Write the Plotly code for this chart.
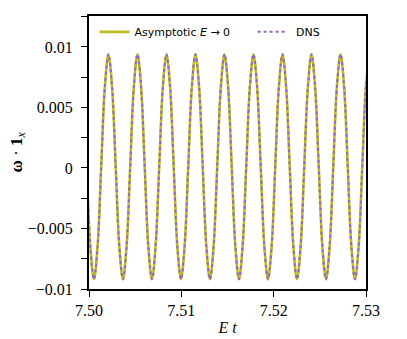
import plotly.graph_objects as go

# time samples (E t) at ~1/8-period spacing
t = [7.499750, 7.500143, 7.500535, 7.500928, 7.501321, 7.501714, 7.502106, 7.502499,
     7.502892, 7.503284, 7.503677, 7.504070, 7.504462, 7.504855, 7.505248, 7.505641,
     7.506033, 7.506426, 7.506819, 7.507211, 7.507604, 7.507997, 7.508389, 7.508782,
     7.509175, 7.509568, 7.509960, 7.510353, 7.510746, 7.511138, 7.511531, 7.511924,
     7.512316, 7.512709, 7.513102, 7.513495, 7.513887, 7.514280, 7.514673, 7.515065,
     7.515458, 7.515851, 7.516243, 7.516636, 7.517029, 7.517422, 7.517814, 7.518207,
     7.518600, 7.518992, 7.519385, 7.519778, 7.520170, 7.520563, 7.520956, 7.521349,
     7.521741, 7.522134, 7.522527, 7.522919, 7.523312, 7.523705, 7.524097, 7.524490,
     7.524883, 7.525276, 7.525668, 7.526061, 7.526454, 7.526846, 7.527239, 7.527632,
     7.528024, 7.528417, 7.528810, 7.529203, 7.529595, 7.529988, 7.530381]

omega_asym = [0.0001, -0.00648, -0.0092, -0.00648, 0.0001, 0.00668, 0.0094, 0.00668,
              0.0001, -0.00648, -0.0092, -0.00648, 0.0001, 0.00668, 0.0094, 0.00668,
              0.0001, -0.00648, -0.0092, -0.00648, 0.0001, 0.00668, 0.0094, 0.00668,
              0.0001, -0.00648, -0.0092, -0.00648, 0.0001, 0.00668, 0.0094, 0.00668,
              0.0001, -0.00648, -0.0092, -0.00648, 0.0001, 0.00668, 0.0094, 0.00668,
              0.0001, -0.00648, -0.0092, -0.00648, 0.0001, 0.00668, 0.0094, 0.00668,
              0.0001, -0.00648, -0.0092, -0.00648, 0.0001, 0.00668, 0.0094, 0.00668,
              0.0001, -0.00648, -0.0092, -0.00648, 0.0001, 0.00668, 0.0094, 0.00668,
              0.0001, -0.00648, -0.0092, -0.00648, 0.0001, 0.00668, 0.0094, 0.00668,
              0.0001, -0.00648, -0.0092, -0.00648, 0.0001, 0.00668, 0.0094]

omega_dns = [0.0001, -0.00648, -0.0092, -0.00648, 0.0001, 0.00668, 0.0094, 0.00668,
             0.0001, -0.00648, -0.0092, -0.00648, 0.0001, 0.00668, 0.0094, 0.00668,
             0.0001, -0.00648, -0.0092, -0.00648, 0.0001, 0.00668, 0.0094, 0.00668,
             0.0001, -0.00648, -0.0092, -0.00648, 0.0001, 0.00668, 0.0094, 0.00668,
             0.0001, -0.00648, -0.0092, -0.00648, 0.0001, 0.00668, 0.0094, 0.00668,
             0.0001, -0.00648, -0.0092, -0.00648, 0.0001, 0.00668, 0.0094, 0.00668,
             0.0001, -0.00648, -0.0092, -0.00648, 0.0001, 0.00668, 0.0094, 0.00668,
             0.0001, -0.00648, -0.0092, -0.00648, 0.0001, 0.00668, 0.0094, 0.00668,
             0.0001, -0.00648, -0.0092, -0.00648, 0.0001, 0.00668, 0.0094, 0.00668,
             0.0001, -0.00648, -0.0092, -0.00648, 0.0001, 0.00668, 0.0094]

x_ticks = [7.50, 7.51, 7.52, 7.53]
x_tick_labels = ["7.50", "7.51", "7.52", "7.53"]
y_ticks = [-0.01, -0.005, 0, 0.005, 0.01]
y_tick_labels = ["\u22120.01", "\u22120.005", "0", "0.005", "0.01"]

fig = go.Figure()
fig.add_trace(go.Scatter(
    x=t, y=omega_asym, mode="lines",
    name="Asymptotic <i>E</i> \u2192 0\u00a0\u00a0\u00a0\u00a0\u00a0",
    line=dict(color="#bcbd22", width=2.6, shape="spline", smoothing=1.0)))
fig.add_trace(go.Scatter(
    x=t, y=omega_dns, mode="lines", name="\u00a0DNS",
    line=dict(color="#9467bd", width=2.0, dash="dot", shape="spline", smoothing=1.0)))

serif = "Liberation Serif, DejaVu Serif, serif"
# the page body adds an 8px offset; the figure is sized to fill the window exactly
fig.update_layout(
    width=399, height=331,
    margin=dict(l=81, r=41, t=8, b=50, pad=0),
    paper_bgcolor="white", plot_bgcolor="white",
    showlegend=True,
    legend=dict(orientation="h", x=0.02, y=0.995, xanchor="left", yanchor="top",
                font=dict(family="DejaVu Sans, sans-serif", size=11, color="black"),
                bgcolor="rgba(255,255,255,0)", itemwidth=30, tracegroupgap=0),
    xaxis=dict(range=[7.50, 7.53], tickmode="array", tickvals=x_ticks, ticktext=x_tick_labels,
               automargin=False,
               ticks="outside", ticklen=6, tickwidth=1, tickcolor="black",
               showline=True, linecolor="black", linewidth=2, mirror=True,
               showgrid=False, zeroline=False,
               tickfont=dict(family=serif, size=16, color="black"),
               title=dict(text="<i>E t</i>", font=dict(family=serif, size=16, color="black"), standoff=4)),
    yaxis=dict(range=[-0.01, 0.01256], tickmode="array", tickvals=y_ticks, ticktext=y_tick_labels,
               automargin=False, ticklabelstandoff=5,
               ticks="outside", ticklen=6, tickwidth=1, tickcolor="black",
               minor=dict(dtick=0.0025, tick0=0, ticks="outside", ticklen=6, tickwidth=1, tickcolor="black", showgrid=False),
               showline=True, linecolor="black", linewidth=2, mirror=True,
               showgrid=False, zeroline=False,
               tickfont=dict(family=serif, size=16, color="black")),
    annotations=[dict(text="<b>\u03c9</b> \u00b7 <b>1</b><sub><i>x</i></sub>",
                      xref="paper", yref="paper", x=0, y=0.5, xanchor="center", yanchor="middle",
                      xshift=-72, textangle=-90, showarrow=False,
                      font=dict(family=serif, size=17, color="black"))],
)

fig.write_html("out.html")
